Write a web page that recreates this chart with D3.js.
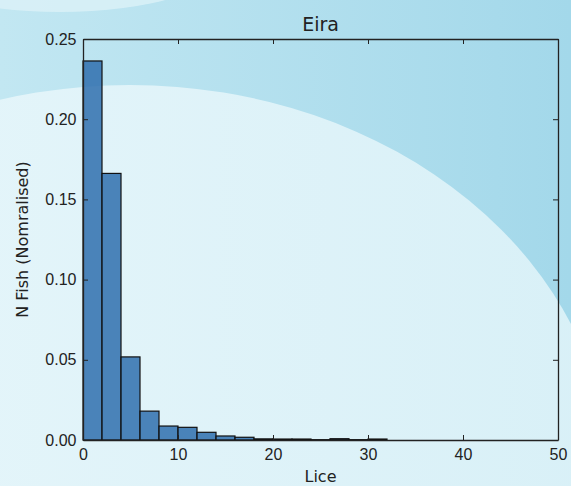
<!DOCTYPE html>
<html>
<head>
<meta charset="utf-8">
<script src="https://cdn.jsdelivr.net/npm/d3@7"></script>
<style>
  body { margin: 0; }
  svg { display: block; font-family: "DejaVu Sans", sans-serif; }
</style>
</head>
<body>
<svg id="chart"></svg>
<script>
// histogram bins (width 2) and their normalised heights
const binStarts = [0, 2, 4, 6, 8, 10, 12, 14, 16, 18, 20, 22, 24, 26, 28, 30, 32, 34, 36, 38, 40, 42, 44, 46, 48];
const density = [0.2363, 0.1662, 0.0518, 0.018, 0.0087, 0.0079, 0.0048, 0.0025, 0.0017,
  0.0007, 0.0006, 0.0006, 0.0002, 0.0008, 0.0002, 0.0006, 0, 0, 0, 0, 0, 0, 0, 0, 0];
const xTicks = [0, 10, 20, 30, 40, 50];
const yTicks = [0, 0.05, 0.1, 0.15, 0.2, 0.25];

const width = 571;
const height = 486;
const margin = { top: 39, right: 13, bottom: 46, left: 83 };

const svg = d3.select("#chart").attr("width", width).attr("height", height);

// background with the soft curves
const defs = svg.append("defs");
const g1 = defs.append("linearGradient").attr("id", "bgTop");
g1.append("stop").attr("offset", "0%").attr("stop-color", "#c2e7f2");
g1.append("stop").attr("offset", "100%").attr("stop-color", "#a3d8ea");
const g2 = defs.append("linearGradient").attr("id", "bgLow");
g2.append("stop").attr("offset", "0%").attr("stop-color", "#e9f7fb");
g2.append("stop").attr("offset", "100%").attr("stop-color", "#d8f0f7");

svg.append("rect").attr("width", width).attr("height", height).attr("fill", "url(#bgTop)");
svg.append("ellipse")
  .attr("cx", 60).attr("cy", -40).attr("rx", 165).attr("ry", 52)
  .attr("fill", "#dcf1f8").attr("opacity", 0.8);
svg.append("ellipse")
  .attr("cx", 130).attr("cy", 480).attr("rx", 480).attr("ry", 395)
  .attr("fill", "url(#bgLow)");

const x = d3.scaleLinear().domain([0, 50]).range([margin.left, width - margin.right]);
const y = d3.scaleLinear().domain([0, 0.25]).range([height - margin.bottom, margin.top]);

// bars
svg.append("g")
  .selectAll("rect")
  .data(binStarts.map((b, i) => ({ x0: b, x1: b + 2, v: density[i] })).filter((d) => d.v > 0))
  .enter()
  .append("rect")
  .attr("x", (d) => x(d.x0))
  .attr("y", (d) => y(d.v))
  .attr("width", (d) => x(d.x1) - x(d.x0))
  .attr("height", (d) => y(0) - y(d.v))
  .attr("fill", "#2f6fae")
  .attr("fill-opacity", 0.85)
  .attr("stroke", "#111")
  .attr("stroke-width", 1.2);

// axes, ticks pointing inwards like old matplotlib
const tickLen = 5;
const axisBottom = d3.axisBottom(x).tickValues(xTicks).tickSizeInner(-tickLen).tickSizeOuter(0).tickPadding(9);
const axisLeft = d3.axisLeft(y).tickValues(yTicks).tickSizeInner(-tickLen).tickSizeOuter(0)
  .tickPadding(6.5).tickFormat(d3.format(".2f"));
const axisTop = d3.axisTop(x).tickValues(xTicks).tickSizeInner(-tickLen).tickSizeOuter(0).tickFormat("");
const axisRight = d3.axisRight(y).tickValues(yTicks).tickSizeInner(-tickLen).tickSizeOuter(0).tickFormat("");

function styleAxis(sel) {
  sel.selectAll("path").attr("stroke", "#222").attr("stroke-width", 1.3);
  sel.selectAll("line").attr("stroke", "#222");
  sel.selectAll("text").attr("fill", "#222").style("font-size", "16px");
}

svg.append("g").attr("transform", `translate(0,${y(0)})`).call(axisBottom).call(styleAxis);
svg.append("g").attr("transform", `translate(${x(0)},0)`).call(axisLeft).call(styleAxis);
svg.append("g").attr("transform", `translate(0,${y(0.25)})`).call(axisTop).call(styleAxis);
svg.append("g").attr("transform", `translate(${x(50)},0)`).call(axisRight).call(styleAxis);

// titles
svg.append("text")
  .attr("x", (x(0) + x(50)) / 2).attr("y", 31)
  .attr("text-anchor", "middle").attr("fill", "#222")
  .style("font-size", "19px").text("Eira");

svg.append("text")
  .attr("x", (x(0) + x(50)) / 2).attr("y", 482)
  .attr("text-anchor", "middle").attr("fill", "#222")
  .style("font-size", "16px").text("Lice");

svg.append("text")
  .attr("transform", `translate(28,${(y(0) + y(0.25)) / 2}) rotate(-90)`)
  .attr("text-anchor", "middle").attr("fill", "#222")
  .style("font-size", "16px").text("N Fish (Nomralised)");
</script>
</body>
</html>
